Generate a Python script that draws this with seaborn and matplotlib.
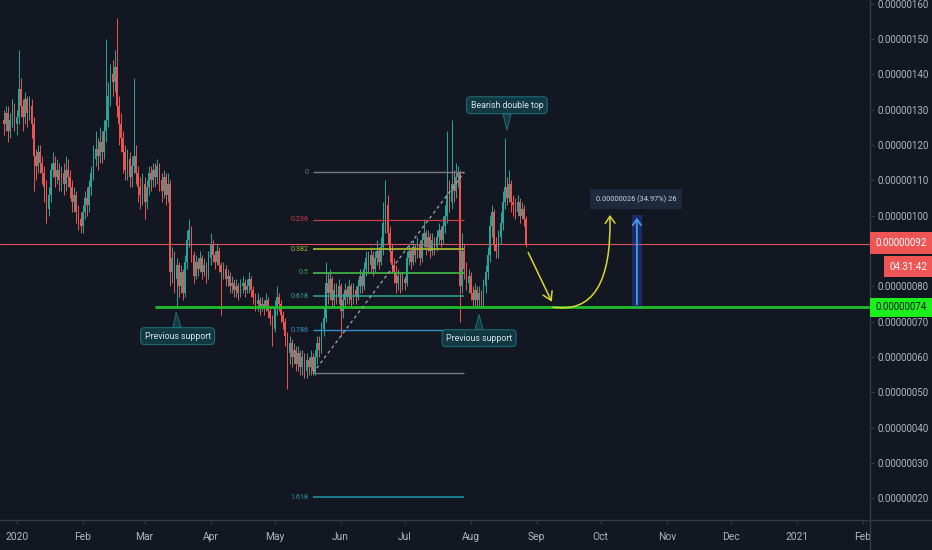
import numpy as np
import pandas as pd
import matplotlib
matplotlib.use("Agg")
import matplotlib.pyplot as plt
import matplotlib.dates as mdates
from matplotlib.path import Path
from matplotlib.patches import FancyArrowPatch, Rectangle
import seaborn as sns

# ---------------- data (prices in units of 1e-8) ----------------
first_day = "2019-12-26"
first_open = 127
closes = [
    126, 129, 124, 127, 130, 126, 128,
    136, 131, 128, 133, 129, 131, 126, 117, 114, 118,
    115, 112, 108, 102, 106, 113, 115, 111, 113, 110,
    112, 109, 113, 111, 108, 104, 106, 101, 99, 97,
    101, 105, 103, 108, 112, 116, 119, 117, 121, 118,
    124, 127, 134, 140, 138, 142, 131, 126, 122, 118,
    113, 116, 111, 114, 117, 112, 108, 106, 109, 104,
    108, 112, 110, 113, 111, 114, 110, 107, 111, 106,
    109, 84, 88, 82, 86, 80, 84, 78, 87, 93,
    96, 89, 83, 87, 85, 88, 84, 86, 83, 88,
    92, 89, 87, 90, 86, 84, 85, 82, 83, 80,
    81, 79, 80, 78, 80, 81, 79, 80, 82, 79,
    77, 75, 76, 74, 75, 74, 76, 73, 71, 68,
    74, 77, 75, 72, 70, 66, 61, 64, 60, 62,
    58, 61, 57, 60, 56, 59, 57, 60, 56, 60,
    64, 62, 68, 71, 81, 78, 82, 76, 79, 77,
    80, 73, 76, 79, 77, 80, 76, 79, 77, 80,
    83, 80, 85, 88, 86, 89, 85, 88, 90, 87,
    91, 98, 103, 95, 90, 86, 84, 81, 83, 80,
    82, 81, 88, 90, 87, 91, 89, 92, 88, 93,
    95, 91, 94, 90, 93, 91, 94, 96, 93, 97,
    100, 106, 104, 109, 107, 111, 112, 80, 90, 85,
    81, 83, 78, 76, 79, 76, 78, 75, 80, 84,
    89, 97, 101, 92, 90, 94, 98, 104, 108, 105,
    109, 104, 103, 101, 104, 100, 102, 99, 92,
]
highs = [
    130, 131, 131, 129, 133, 132, 130,
    147, 139, 133, 135, 134, 134, 133, 128, 119, 120,
    120, 117, 114, 110, 108, 115, 118, 117, 116, 115,
    114, 115, 117, 116, 113, 110, 108, 107, 103, 101,
    103, 107, 108, 110, 114, 120, 124, 122, 125, 124,
    127, 150, 138, 143, 144, 147, 156, 134, 129, 124,
    120, 119, 118, 117, 139, 120, 114, 111, 112, 111,
    110, 114, 114, 115, 115, 116, 115, 112, 113, 112,
    112, 110, 91, 90, 88, 87, 86, 85, 89, 96,
    99, 97, 90, 89, 88, 90, 89, 88, 87, 90,
    95, 93, 90, 92, 91, 87, 87, 86, 85, 84,
    83, 82, 82, 81, 82, 83, 82, 82, 84, 83,
    80, 78, 78, 77, 77, 76, 78, 77, 74, 72,
    76, 80, 78, 76, 73, 71, 67, 66, 65, 64,
    63, 63, 62, 62, 61, 61, 60, 62, 61, 62,
    66, 66, 70, 74, 87, 84, 85, 83, 81, 81,
    82, 81, 78, 81, 80, 82, 81, 81, 80, 82,
    85, 84, 87, 90, 90, 91, 90, 90, 93, 91,
    94, 104, 110, 106, 97, 92, 88, 86, 85, 84,
    84, 83, 90, 92, 91, 93, 92, 94, 93, 95,
    99, 96, 96, 95, 95, 94, 96, 98, 97, 100,
    103, 124, 110, 127, 113, 115, 114, 113, 95, 92,
    87, 85, 84, 80, 81, 80, 80, 79, 82, 86,
    91, 100, 103, 102, 94, 96, 101, 107, 122, 111,
    113, 110, 106, 105, 106, 105, 104, 103, 100,
]
lows = [
    123, 124, 121, 122, 125, 124, 123,
    126, 128, 124, 126, 125, 127, 122, 107, 110, 112,
    112, 109, 104, 98, 100, 104, 111, 108, 109, 107,
    107, 106, 107, 108, 105, 101, 101, 98, 96, 95,
    95, 99, 100, 101, 106, 110, 114, 113, 115, 115,
    116, 121, 125, 131, 134, 135, 128, 120, 118, 112,
    110, 110, 108, 108, 112, 109, 104, 102, 103, 99,
    102, 106, 107, 108, 108, 109, 107, 104, 105, 103,
    104, 80, 81, 78, 74, 77, 78, 76, 77, 85,
    91, 87, 81, 82, 83, 84, 82, 83, 81, 82,
    86, 87, 85, 86, 84, 72, 82, 80, 80, 78,
    78, 77, 77, 76, 77, 78, 77, 78, 78, 77,
    75, 73, 73, 72, 73, 72, 73, 71, 69, 63,
    67, 72, 73, 70, 68, 63, 51, 58, 57, 58,
    56, 56, 55, 55, 54, 54, 55, 55, 55, 55,
    58, 60, 61, 66, 70, 75, 76, 74, 74, 75,
    75, 66, 71, 74, 75, 75, 74, 75, 75, 76,
    78, 78, 79, 83, 84, 84, 83, 84, 86, 85,
    86, 89, 95, 92, 87, 84, 81, 78, 79, 78,
    79, 79, 80, 86, 85, 86, 87, 88, 86, 87,
    91, 89, 90, 88, 89, 89, 90, 92, 91, 92,
    95, 98, 101, 102, 104, 105, 108, 70, 78, 82,
    79, 78, 76, 74, 74, 74, 74, 74, 74, 78,
    82, 87, 94, 90, 88, 88, 92, 96, 102, 103,
    104, 101, 100, 99, 100, 98, 99, 97, 91,
]

price_ticks = [20, 30, 40, 50, 60, 70, 80, 90, 100, 110, 120, 130, 140, 150, 160]
hidden_ticks = [90]          # covered by the last-price label in the reference
month_labels = ["2020", "Feb", "Mar", "Apr", "May", "Jun", "Jul", "Aug", "Sep",
                "Oct", "Nov", "Dec", "2021", "Feb"]

last_price = 92
countdown = "04:31:42"
support_price = 74
support_start = "2020-03-06"

fib_ratios = [0, 0.236, 0.382, 0.5, 0.618, 0.786, 1, 1.618]
fib_labels = ["0", "0.236", "0.382", "0.5", "0.618", "0.786", "", "1.618"]
fib_high = 112.3
fib_low = 55.4
fib_start = "2020-05-19"
fib_end = "2020-07-29"

range_low, range_high = 74.1, 100.2
range_text = "0.00000026 (34.97%) 26"

# ---------------- style ----------------
BG = "#131722"
TXT = "#b2b5be"
UP = "#26a69a"
DOWN = "#ef5350"
LINEC = "#363a45"
FS = 7.0

sns.set_theme(style="dark", rc={"axes.facecolor": BG, "figure.facecolor": BG,
                                "axes.grid": False, "savefig.facecolor": BG})
plt.rcParams["font.family"] = ["Roboto", "DejaVu Sans"]

W, H = 932, 550
fig = plt.figure(figsize=(W / 100, H / 100), dpi=100)
ax = fig.add_axes([0, 30 / H, 870 / W, 520 / H])
ax.set_facecolor(BG)

base = pd.Timestamp("2020-01-01")
def dnum(s):
    return mdates.date2num(pd.Timestamp(s))
def dd(days):
    return mdates.date2num(base) + days

dates = pd.date_range(first_day, periods=len(closes), freq="D")
opens = [first_open] + closes[:-1]
df = pd.DataFrame({"date": dates, "open": opens, "close": closes, "high": highs, "low": lows})
x = mdates.date2num(df["date"])
o = df["open"].to_numpy(float)
c = df["close"].to_numpy(float)
colors = np.where(c >= o, UP, DOWN)

ax.vlines(x, df["low"], df["high"], colors=colors, lw=0.7, zorder=3)
body = np.maximum(np.abs(c - o), 0.35)
ax.bar(x, body, bottom=np.minimum(o, c), width=0.8, color=colors, linewidth=0, zorder=4)

# horizontal lines
ax.axhline(last_price, color="#e0545a", lw=0.8, zorder=2)
ax.hlines(support_price, dnum(support_start), dd(500), color="#1fbf2a", lw=2.0, zorder=5)

# fib retracement
fib_colors = ["#787b86", "#c9414a", "#a8b42c", "#3fae45", "#2fa597", "#3a8ec8", "#787b86", "#1c9aa6"]
fib_lw = [1, 0.9, 1.3, 1.3, 1.1, 1.0, 1.0, 1.1]
fs, fe = dnum(fib_start), dnum(fib_end)
for r, lab, col, lw in zip(fib_ratios, fib_labels, fib_colors, fib_lw):
    lvl = fib_high - r * (fib_high - fib_low)
    ax.hlines(lvl, fs, fe, color=col, lw=lw, zorder=5)
    if lab:
        ax.annotate(lab, (fs, lvl), xytext=(-3, 0), textcoords="offset points",
                    ha="right", va="center", fontsize=5.2, color=col, zorder=6)
ax.plot([fs, fe], [fib_low, fib_high], color="#a3a6af", lw=0.9, ls=(0, (2.5, 2.5)), zorder=5)

# yellow projection arrows
YEL = "#d8d830"
ax.annotate("", xy=(dd(251.6), 74.9), xytext=(dd(239.4), 90.3),
            arrowprops=dict(arrowstyle="->,head_length=0.5,head_width=0.3", color=YEL, lw=1.1), zorder=7)
curve = Path([(dd(251.6), 74.1), (dd(279.5), 71.5), (dd(278.3), 100.2)],
             [Path.MOVETO, Path.CURVE3, Path.CURVE3])
ax.add_patch(FancyArrowPatch(path=curve, arrowstyle="->,head_length=5,head_width=3.5",
                             color=YEL, lw=1.1, transform=ax.transData, zorder=7))

# price range tool
rx0, rx1 = dd(288.6), dd(293.3)
ax.add_patch(Rectangle((rx0, range_low), rx1 - rx0, range_high - range_low,
                       facecolor="#2962ff", alpha=0.3, edgecolor="none", zorder=6))
ax.annotate("", xy=((rx0 + rx1) / 2, range_high), xytext=((rx0 + rx1) / 2, range_low),
            arrowprops=dict(arrowstyle="->,head_length=0.35,head_width=0.25", color="#4a9ae8", lw=1.3), zorder=7)
ax.text(dd(290.5), 104.7, range_text, ha="center", va="center", fontsize=5.3, color="#d1d4dc",
        bbox=dict(boxstyle="square,pad=0.8", fc="#1d2a3d", ec="none"), zorder=8)

# callouts
CFC, CEC, CTX = "#113843", "#1d6b74", "#d6e3e6"
def callout(text, tip, box):
    ax.annotate(text, xy=tip, xytext=box, ha="center", va="center", fontsize=6.3, color=CTX,
                bbox=dict(boxstyle="round,pad=0.45,rounding_size=0.45", fc=CFC, ec=CEC, lw=0.8),
                arrowprops=dict(arrowstyle="wedge,tail_width=0.9,shrink_factor=0.5",
                                fc=CFC, ec=CEC, lw=0.8, shrinkA=0, shrinkB=0), zorder=9)
callout("Previous support", (dd(74.8), 72.6), (dd(75.5), 65.9))
callout("Previous support", (dd(216.9), 72.0), (dd(216.9), 65.3))
callout("Bearish double top", (dd(230.0), 124.3), (dd(230.0), 131.3))

# axes
ax.set_xlim(dd(-7.8), dd(400.3))
ax.set_ylim(13.8, 161.1)
for s in ax.spines.values():
    s.set_visible(False)
ax.yaxis.tick_right()
ax.set_yticks(price_ticks)
ax.set_yticklabels(["" if v in hidden_ticks else f"{v * 1e-8:.8f}" for v in price_ticks])
month_starts = pd.date_range("2020-01-01", "2021-02-01", freq="MS")
ax.set_xticks(mdates.date2num(month_starts))
ax.set_xticklabels(month_labels)
ax.tick_params(axis="y", length=3, width=0.8, color=LINEC, pad=2.5, labelsize=FS, labelcolor=TXT,
               right=True, left=False)
ax.tick_params(axis="x", length=3, width=0.8, color=LINEC, pad=6, labelsize=FS + 0.4, labelcolor=TXT,
               bottom=True)
ax.set_xlabel("")
ax.set_ylabel("")

# frame lines of the price and time scales
fig.add_artist(plt.Line2D([0, 1], [30 / H, 30 / H], transform=fig.transFigure, color=LINEC, lw=1))
fig.add_artist(plt.Line2D([870 / W, 870 / W], [0, 1], transform=fig.transFigure, color=LINEC, lw=1))

# price scale labels
def price_box(y0, y1, x0, fc, text, tc):
    fig.add_artist(Rectangle((x0 / W, 1 - y1 / H), (W - x0) / W, (y1 - y0) / H,
                             transform=fig.transFigure, facecolor=fc, edgecolor="none", zorder=10))
    fig.text((x0 + (W - x0) / 2) / W, 1 - (y0 + y1) / 2 / H, text, ha="center", va="center",
             fontsize=FS, color=tc, zorder=11)
price_box(232, 254, 870, "#f05555", f"{last_price * 1e-8:.8f}", "white")
price_box(256, 277, 884, "#f05555", countdown, "white")
price_box(298, 317, 870, "#1cf01c", f"{support_price * 1e-8:.8f}", "#131722")

fig.savefig("out.png", dpi=100, facecolor=BG)
